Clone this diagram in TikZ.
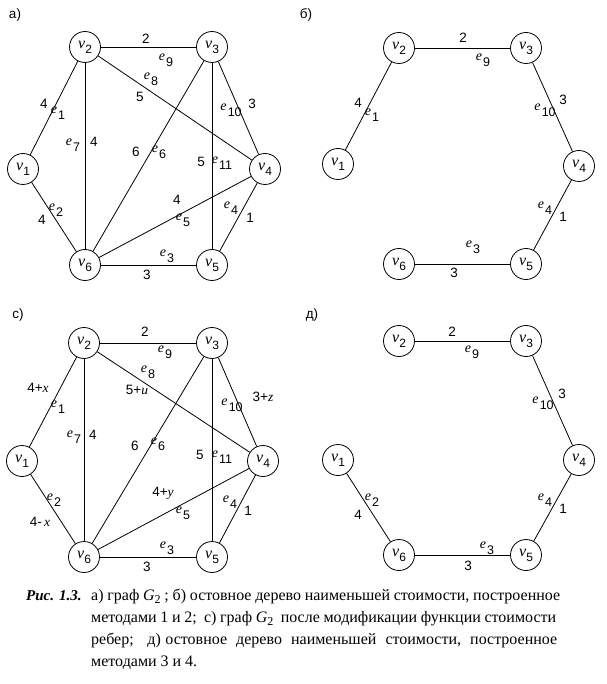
\documentclass[tikz,border=0pt]{standalone}
\usepackage{fontspec}
\setmainfont{Liberation Serif}
\setsansfont{Liberation Sans}
\newcommand\vlab[1]{{\fontsize{16}{16}\selectfont\itshape v}\kern0.2pt\raisebox{-5pt}{\sffamily\fontsize{12}{12}\selectfont #1}}
\newcommand\elab[1]{{\fontsize{14}{14}\selectfont\itshape e}\kern1.2pt\raisebox{-6pt}{\sffamily\fontsize{12.5}{12.5}\selectfont #1}}
\newcommand\capG{{\itshape G}\raisebox{-3.5pt}{\fontsize{12}{12}\selectfont 2}}
\tikzset{
  vert/.style={circle, draw, line width=0.8pt, minimum size=31pt, inner sep=0pt},
  num/.style={font=\sffamily\fontsize{13.5}{13.5}\selectfont, inner sep=0pt},
  lab/.style={inner sep=0pt},
  edg/.style={line width=0.8pt},
  panel/.style={font=\sffamily\fontsize{13.5}{13.5}\selectfont, inner sep=0pt},
  capline/.style={anchor=base west, inner sep=0pt, font=\fontsize{16}{16}\selectfont}
}
\begin{document}
\begin{tikzpicture}[x=1pt,y=-1pt]
\useasboundingbox (0,0) rectangle (606,684);
\fill[white] (0,0) rectangle (606,684);

% ---------- panel a ----------
\node[panel] (pa) at (15,15) {а)};
\node[vert] (a1) at (23,169) {\vlab{1}};
\node[vert] (a2) at (85,47) {\vlab{2}};
\node[vert] (a3) at (212,47) {\vlab{3}};
\node[vert] (a4) at (265,169) {\vlab{4}};
\node[vert] (a5) at (212,265) {\vlab{5}};
\node[vert] (a6) at (85,265) {\vlab{6}};
\draw[edg] (a1) -- (a2);
\draw[edg] (a1) -- (a6);
\draw[edg] (a6) -- (a5);
\draw[edg] (a5) -- (a4);
\draw[edg] (a6) -- (a4);
\draw[edg] (a6) -- (a3);
\draw[edg] (a2) -- (a6);
\draw[edg] (a2) -- (a4);
\draw[edg] (a2) -- (a3);
\draw[edg] (a3) -- (a4);
\draw[edg] (a3) -- (a5);
\node[num] (wa9) at (146,39) {2};
\node[lab] (la9) at (166,60) {\elab{9}};
\node[lab] (la8) at (151,79) {\elab{8}};
\node[num] (wa8) at (140,97) {5};
\node[num] (wa1) at (44,104) {4};
\node[lab] (la1) at (58,113) {\elab{1}};
\node[lab] (la7) at (73,145) {\elab{7}};
\node[num] (wa7) at (94,142) {4};
\node[num] (wa6) at (136,152) {6};
\node[lab] (la6) at (159,152) {\elab{6}};
\node[num] (wa11) at (201,162) {5};
\node[lab] (la11) at (222,163) {\elab{11}};
\node[lab] (la10) at (231,110) {\elab{10}};
\node[num] (wa10) at (252,104) {3};
\node[lab] (la2) at (56,210) {\elab{2}};
\node[num] (wa2) at (42,220) {4};
\node[num] (wa5) at (177,200) {4};
\node[lab] (la5) at (183,220) {\elab{5}};
\node[lab] (la4) at (231,208) {\elab{4}};
\node[num] (wa4) at (250,218) {1};
\node[lab] (la3) at (167,256) {\elab{3}};
\node[num] (wa3) at (147,275) {3};

% ---------- panel b ----------
\node[panel] (pb) at (306,15) {б)};
\node[vert] (b1) at (338,164) {\vlab{1}};
\node[vert] (b2) at (399,48) {\vlab{2}};
\node[vert] (b3) at (526,48) {\vlab{3}};
\node[vert] (b4) at (579,166) {\vlab{4}};
\node[vert] (b5) at (526,264) {\vlab{5}};
\node[vert] (b6) at (399,264) {\vlab{6}};
\draw[edg] (b1) -- (b2);
\draw[edg] (b2) -- (b3);
\draw[edg] (b3) -- (b4);
\draw[edg] (b4) -- (b5);
\draw[edg] (b6) -- (b5);
\node[num] (wb9) at (463,38) {2};
\node[lab] (lb9) at (483,60) {\elab{9}};
\node[num] (wb1) at (358,103) {4};
\node[lab] (lb1) at (372,115) {\elab{1}};
\node[lab] (lb10) at (545,110) {\elab{10}};
\node[num] (wb10) at (563,100) {3};
\node[lab] (lb4) at (545,208) {\elab{4}};
\node[num] (wb4) at (563,217) {1};
\node[lab] (lb3) at (473,247) {\elab{3}};
\node[num] (wb3) at (454,273) {3};

% ---------- panel c ----------
\node[panel] (pc) at (18,315) {с)};
\node[vert] (c1) at (22,461) {\vlab{1}};
\node[vert] (c2) at (84,343) {\vlab{2}};
\node[vert] (c3) at (212,343) {\vlab{3}};
\node[vert] (c4) at (263,461) {\vlab{4}};
\node[vert] (c5) at (212,557) {\vlab{5}};
\node[vert] (c6) at (84,557) {\vlab{6}};
\draw[edg] (c1) -- (c2);
\draw[edg] (c1) -- (c6);
\draw[edg] (c6) -- (c5);
\draw[edg] (c5) -- (c4);
\draw[edg] (c6) -- (c4);
\draw[edg] (c6) -- (c3);
\draw[edg] (c2) -- (c6);
\draw[edg] (c2) -- (c4);
\draw[edg] (c2) -- (c3);
\draw[edg] (c3) -- (c4);
\draw[edg] (c3) -- (c5);
\node[num] (wc9) at (145,332) {2};
\node[lab] (lc9) at (165,352) {\elab{9}};
\node[lab] (lc8) at (148,372) {\elab{8}};
\node[num] (wc8) at (137,390) {5+\textrm{\itshape u}};
\node[num] (wc1) at (38,388) {4+\textrm{\itshape x}};
\node[lab] (lc1) at (58,407) {\elab{1}};
\node[lab] (lc7) at (74,437) {\elab{7}};
\node[num] (wc7) at (93,435) {4};
\node[num] (wc6) at (135,446) {6};
\node[lab] (lc6) at (158,444) {\elab{6}};
\node[num] (wc11) at (200,455) {5};
\node[lab] (lc11) at (222,457) {\elab{11}};
\node[lab] (lc10) at (232,405) {\elab{10}};
\node[num] (wc10) at (263,397) {3+\textrm{\itshape z}};
\node[lab] (lc2) at (54,500) {\elab{2}};
\node[num] (wc2) at (40,522) {4-\,\textrm{\itshape x}};
\node[num] (wc5) at (163,493) {4+\textrm{\itshape y}};
\node[lab] (lc5) at (183,513) {\elab{5}};
\node[lab] (lc4) at (230,502) {\elab{4}};
\node[num] (wc4) at (248,511) {1};
\node[lab] (lc3) at (167,548) {\elab{3}};
\node[num] (wc3) at (147,567) {3};

% ---------- panel d ----------
\node[panel] (pd) at (312,315) {д)};
\node[vert] (d1) at (338,460) {\vlab{1}};
\node[vert] (d2) at (399,341) {\vlab{2}};
\node[vert] (d3) at (526,341) {\vlab{3}};
\node[vert] (d4) at (579,460) {\vlab{4}};
\node[vert] (d5) at (526,555) {\vlab{5}};
\node[vert] (d6) at (399,555) {\vlab{6}};
\draw[edg] (d2) -- (d3);
\draw[edg] (d3) -- (d4);
\draw[edg] (d4) -- (d5);
\draw[edg] (d6) -- (d5);
\draw[edg] (d1) -- (d6);
\node[num] (wd9) at (452,332) {2};
\node[lab] (ld9) at (472,352) {\elab{9}};
\node[lab] (ld10) at (543,403) {\elab{10}};
\node[num] (wd10) at (562,394) {3};
\node[lab] (ld2) at (372,500) {\elab{2}};
\node[num] (wd2) at (358,515) {4};
\node[lab] (ld4) at (545,500) {\elab{4}};
\node[num] (wd4) at (563,509) {1};
\node[lab] (ld3) at (487,548) {\elab{3}};
\node[num] (wd3) at (468,566) {3};

% ---------- caption ----------
\node[capline, font=\fontsize{15}{15}\selectfont] (cap0) at (26,600) {\bfseries\itshape Рис. 1.3.};
\node[capline] (cap1) at (91,600) {\makebox[469pt][s]{а) граф \capG\ ; б) остовное дерево наименьшей стоимости, построенное}};
\node[capline] (cap2) at (91,622) {\makebox[465pt][s]{методами 1 и 2;\ \ с) граф \capG\ \ после модификации функции стоимости}};
\node[capline] (cap3) at (91,644) {\makebox[466pt][s]{ребер;\ \ \ д) остовное\ \ дерево\ \ наименьшей\ \ стоимости,\ \ построенное}};
\node[capline] (cap4) at (91,666) {методами 3 и 4.};
\end{tikzpicture}
\end{document}
